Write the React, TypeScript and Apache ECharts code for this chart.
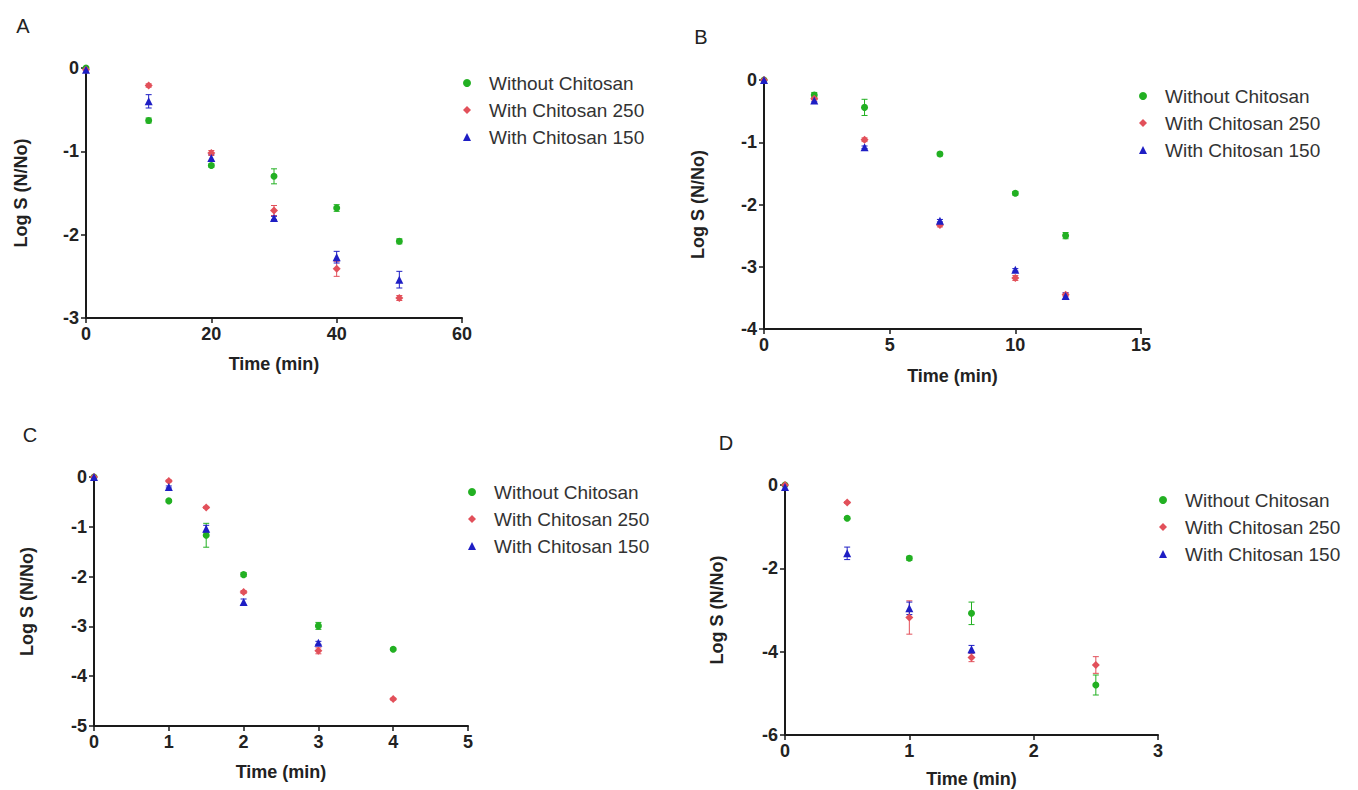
import React, { useEffect, useRef } from 'react';
import * as echarts from 'echarts';

const SERIES_NAMES = ['Without Chitosan', 'With Chitosan 250', 'With Chitosan 150'];
const COLORS = ['#22b022', '#e2505a', '#1e1ec4'];
const SYMBOLS = ['circle', 'diamond', 'triangle'];
const SYMBOL_SIZES = [7, 8, 8];

// Panel A
const timeA = [0, 10, 20, 30, 40, 50];
const withoutA = [0, -0.63, -1.17, -1.3, -1.68, -2.08];
const withoutErrA = [0, 0.03, 0.02, 0.09, 0.04, 0.03];
const with250A = [-0.02, -0.21, -1.02, -1.71, -2.41, -2.76];
const with250ErrA = [0, 0.02, 0.03, 0.06, 0.09, 0.03];
const with150A = [-0.02, -0.4, -1.08, -1.8, -2.27, -2.54];
const with150ErrA = [0, 0.08, 0.04, 0.02, 0.07, 0.1];

// Panel B
const timeB = [0, 2, 4, 7, 10, 12];
const withoutB = [0, -0.24, -0.44, -1.19, -1.82, -2.5];
const withoutErrB = [0, 0.04, 0.13, 0.03, 0.03, 0.05];
const with250B = [0, -0.3, -0.96, -2.33, -3.18, -3.45];
const with250ErrB = [0, 0.02, 0.03, 0.03, 0.04, 0.03];
const with150B = [0, -0.33, -1.08, -2.26, -3.05, -3.47];
const with150ErrB = [0, 0.02, 0.02, 0.02, 0.02, 0.05];

// Panel C
const timeC = [0, 1, 1.5, 2, 3, 4];
const timeC150 = [0, 1, 1.5, 2, 3];
const withoutC = [0, -0.48, -1.17, -1.96, -2.99, -3.46];
const withoutErrC = [0, 0.02, 0.24, 0.04, 0.07, 0.02];
const with250C = [0, -0.08, -0.61, -2.31, -3.49, -4.46];
const with250ErrC = [0, 0.02, 0.02, 0.03, 0.06, 0.02];
const with150C = [0, -0.2, -1.04, -2.51, -3.33];
const with150ErrC = [0, 0.02, 0.07, 0.06, 0.03];

// Panel D
const timeD = [0, 0.5, 1, 1.5, 2.5];
const timeD150 = [0, 0.5, 1, 1.5];
const withoutD = [0, -0.8, -1.76, -3.08, -4.8];
const withoutErrD = [0, 0.03, 0.05, 0.27, 0.24];
const with250D = [0, -0.42, -3.18, -4.14, -4.32];
const with250ErrD = [0, 0.02, 0.4, 0.1, 0.2];
const with150D = [-0.05, -1.64, -2.96, -3.94];
const with150ErrD = [0, 0.15, 0.15, 0.09];

const PANEL_DATA = [
  { label: 'A', xMax: 60, xInterval: 20, yMin: -3, yInterval: 1,
    groups: [[timeA, withoutA, withoutErrA], [timeA, with250A, with250ErrA], [timeA, with150A, with150ErrA]] },
  { label: 'B', xMax: 15, xInterval: 5, yMin: -4, yInterval: 1,
    groups: [[timeB, withoutB, withoutErrB], [timeB, with250B, with250ErrB], [timeB, with150B, with150ErrB]] },
  { label: 'C', xMax: 5, xInterval: 1, yMin: -5, yInterval: 1,
    groups: [[timeC, withoutC, withoutErrC], [timeC, with250C, with250ErrC], [timeC150, with150C, with150ErrC]] },
  { label: 'D', xMax: 3, xInterval: 1, yMin: -6, yInterval: 2,
    groups: [[timeD, withoutD, withoutErrD], [timeD, with250D, with250ErrD], [timeD150, with150D, with150ErrD]] },
];

// layout (positions only)
const LAYOUT = [
  { grid: { left: 86, top: 68, width: 376, height: 250 }, legend: [463, 73], letter: [23, 26], gapX: 37, gapY: 56 },
  { grid: { left: 764, top: 80, width: 377, height: 249 }, legend: [1139, 86], letter: [701, 37], gapX: 38, gapY: 57 },
  { grid: { left: 94, top: 477, width: 374, height: 249 }, legend: [468, 482], letter: [30, 435], gapX: 37, gapY: 58 },
  { grid: { left: 785, top: 485, width: 373, height: 250 }, legend: [1159, 490], letter: [726, 443], gapX: 35, gapY: 59 },
];

const FONT = 'Liberation Sans, Arial, sans-serif';

export default function App() {
  const ref = useRef<HTMLDivElement>(null);
  useEffect(() => {
    if (!ref.current) return;
    const chart = echarts.init(ref.current, undefined, { renderer: 'svg' });

    const grids: any[] = [];
    const xAxes: any[] = [];
    const yAxes: any[] = [];
    const legends: any[] = [];
    const series: any[] = [];
    const graphics: any[] = [];

    const axisCommon = {
      axisLine: { onZero: false, lineStyle: { color: '#1a1a1a', width: 2 } },
      axisTick: { show: true, inside: false, length: 5, lineStyle: { color: '#1a1a1a', width: 1.5 } },
      axisLabel: { color: '#222', fontSize: 18, fontWeight: 'bold', fontFamily: FONT, margin: 7 },
      splitLine: { show: false },
      nameLocation: 'middle',
      nameTextStyle: { color: '#222', fontSize: 18, fontWeight: 'bold', fontFamily: FONT },
    };

    PANEL_DATA.forEach((p, i) => {
      const L = LAYOUT[i];
      grids.push({ ...L.grid, containLabel: false });
      xAxes.push({
        ...axisCommon, type: 'value', gridIndex: i, min: 0, max: p.xMax, interval: p.xInterval,
        name: 'Time (min)', nameGap: L.gapX,
      });
      yAxes.push({
        ...axisCommon, type: 'value', gridIndex: i, min: p.yMin, max: 0, interval: p.yInterval,
        name: 'Log S (N/No)', nameGap: L.gapY,
      });
      legends.push({
        orient: 'vertical', left: L.legend[0], top: L.legend[1], padding: 0,
        itemWidth: 8, itemHeight: 8, itemGap: 7,
        selectedMode: false,
        data: SERIES_NAMES.map((n, g) => ({ name: n, icon: SYMBOLS[g] })),
        textStyle: { color: '#333', fontSize: 19, fontFamily: FONT, lineHeight: 20, padding: [0, 0, 0, 13] },
      });
      graphics.push({
        type: 'text', x: L.letter[0], y: L.letter[1],
        style: { text: p.label, fill: '#222', font: `20px ${FONT}`, align: 'center', verticalAlign: 'middle' },
      });
      p.groups.forEach((grp, g) => {
        const [times, vals, errs] = grp as number[][];
        const color = COLORS[g];
        series.push({
          type: 'custom', xAxisIndex: i, yAxisIndex: i, z: 1,
          encode: { x: 0, y: 1 },
          data: times.map((t, k) => [t, vals[k], errs[k]]),
          renderItem: (_params: any, api: any) => {
            const x = api.value(0), y = api.value(1), e = api.value(2);
            if (!e) return null;
            const top = api.coord([x, y + e]);
            const bot = api.coord([x, y - e]);
            const hw = 3;
            const style = { stroke: color, lineWidth: 1 };
            return {
              type: 'group',
              children: [
                { type: 'line', shape: { x1: top[0], y1: top[1], x2: bot[0], y2: bot[1] }, style },
                { type: 'line', shape: { x1: top[0] - hw, y1: top[1], x2: top[0] + hw, y2: top[1] }, style },
                { type: 'line', shape: { x1: bot[0] - hw, y1: bot[1], x2: bot[0] + hw, y2: bot[1] }, style },
              ],
            };
          },
        });
        series.push({
          name: SERIES_NAMES[g], type: 'scatter', xAxisIndex: i, yAxisIndex: i, z: 2,
          symbol: SYMBOLS[g], symbolSize: SYMBOL_SIZES[g],
          itemStyle: { color, opacity: 1 },
          data: times.map((t, k) => [t, vals[k]]),
        });
      });
    });

    chart.setOption({
      animation: false,
      backgroundColor: '#ffffff',
      grid: grids,
      xAxis: xAxes,
      yAxis: yAxes,
      legend: legends,
      series,
      graphic: graphics,
    });
    return () => chart.dispose();
  }, []);
  return <div ref={ref} style={{ position: 'fixed', left: 0, top: 0, width: 1358, height: 790 }} />;
}
